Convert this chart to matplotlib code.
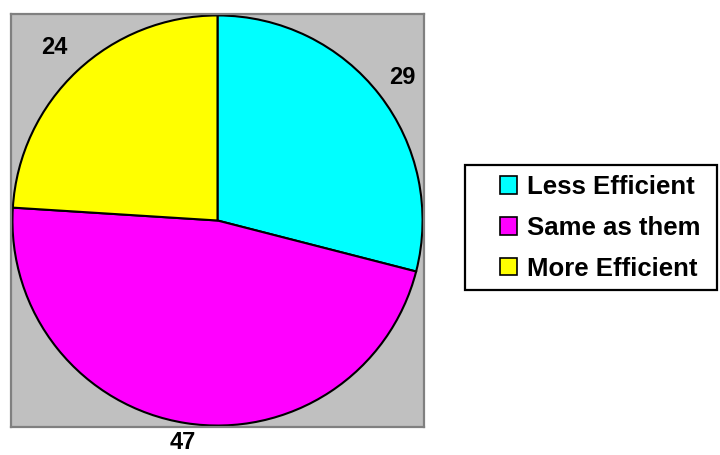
import numpy as np
import matplotlib.pyplot as plt
from matplotlib.patches import Rectangle

categories = ['Less Efficient', 'Same as them', 'More Efficient']
values = [29, 47, 24]
colors = ['#00FFFF', '#FF00FF', '#FFFF00']
label_dist = [1.14, 1.095, 1.16]

plt.rcParams['font.family'] = ['Liberation Sans', 'DejaVu Sans']

fig = plt.figure(figsize=(7.2, 4.55), dpi=100)
ax = fig.add_axes([11 / 720, 28 / 455, 413 / 720, 413 / 455])

wedges, texts = ax.pie(values, labels=[str(v) for v in values],
                       colors=colors, startangle=90, counterclock=False,
                       labeldistance=1.0, frame=True,
                       wedgeprops=dict(edgecolor='black', linewidth=1.5),
                       textprops=dict(fontsize=17, fontweight='bold'))
for t, d in zip(texts, label_dist):
    x, y = t.get_position()
    t.set_position((x * d, y * d))
    t.set_ha('center')
    t.set_va('center')
    t.set_clip_on(False)

ax.set_facecolor('#C0C0C0')
ax.set_xlim(-1.007, 1.007)
ax.set_ylim(-1.007, 1.007)
ax.set_aspect('equal')
ax.set_xticks([])
ax.set_yticks([])
for s in ax.spines.values():
    s.set_color('#808080')
    s.set_linewidth(1.6)

# legend box drawn separately
fig.patches.append(Rectangle((465 / 720, 1 - 290 / 455), 252 / 720, 125 / 455,
                             transform=fig.transFigure, facecolor='white',
                             edgecolor='black', linewidth=1.6))

leg = fig.legend(wedges, categories, loc='upper left',
                 bbox_to_anchor=(500 / 720, 1 - 175 / 455),
                 prop=dict(size=18.5, weight='bold'),
                 frameon=False, borderpad=0, borderaxespad=0,
                 handlelength=0.65, handleheight=0.65, handletextpad=0.42,
                 labelspacing=0.66)
for h in leg.legend_handles:
    h.set_linewidth(1.2)

fig.savefig('out.png', dpi=100)
